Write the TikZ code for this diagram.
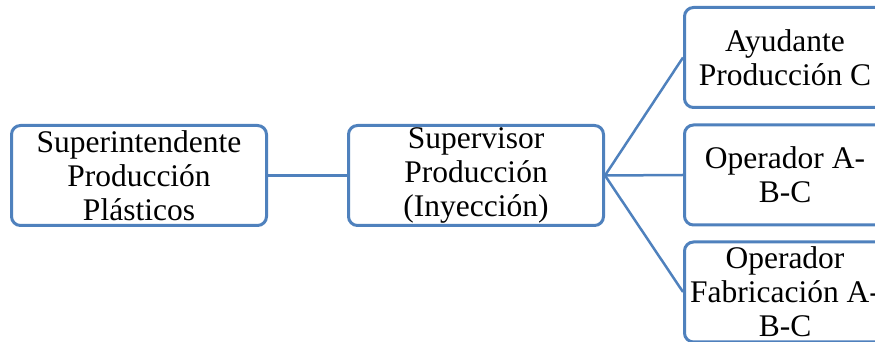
\documentclass[tikz,border=0pt]{standalone}
\usepackage{fontspec}
\setmainfont{Liberation Serif}
\definecolor{boxblue}{RGB}{79,129,189}
\begin{document}
\begin{tikzpicture}[x=1pt,y=1pt,
  orgbox/.style={draw=boxblue, line width=3pt, rounded corners=9pt, fill=white,
    inner sep=0pt, align=center, minimum height=100pt,
    font=\fontsize{31.5}{34}\selectfont},
  widebox/.style={orgbox, minimum width=255pt},
  narrowbox/.style={orgbox, minimum width=201pt},
  link/.style={draw=boxblue, line width=2.5pt}]
\useasboundingbox (0,0) rectangle (875,342);
\clip (0,0) rectangle (875,342);
% hierarchy boxes
\node[widebox] (sup) at (139,166.5) {Superintendente\\Producción\\Plásticos};
\node[widebox] (mid) at (476,166.5) {Supervisor\\Producción\\(Inyección)};
\node[narrowbox] (r1) at (785,284.5) {Ayudante\\Producción C};
\node[narrowbox] (r2) at (785,167) {Operador A-\\B-C};
\node[narrowbox] (r3) at (785,50) {Operador\\Fabricación A-\\B-C};
% connectors
\draw[link] (sup.east) -- (mid.west);
\draw[link] (mid.east) -- (r1.west);
\draw[link] (mid.east) -- (r2.west);
\draw[link] (mid.east) -- (r3.west);
\end{tikzpicture}
\end{document}
